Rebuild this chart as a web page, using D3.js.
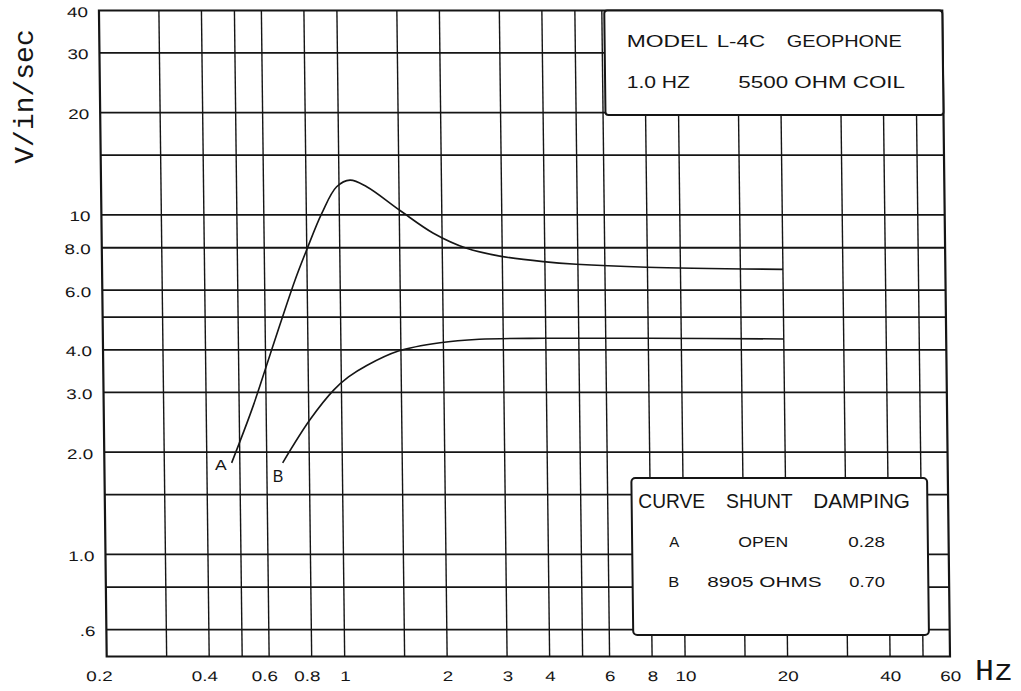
<!DOCTYPE html>
<html><head><meta charset="utf-8">
<script src="https://cdn.jsdelivr.net/npm/d3@7"></script>
<style>body{margin:0;background:#fff}</style>
</head><body>
<svg id="c" width="1021" height="691"></svg>
<script>
// ---- data ----
const xGrid = [0.3,0.4,0.5,0.6,0.8,1,1.5,2,3,4,5,6,8,10,15,20,30,40,50];
const yGrid = [0.6,0.8,1,1.5,2,3,4,5,6,8,10,15,20,30];
const xTicks = [0.2,0.4,0.6,0.8,1,2,3,4,6,8,10,20,40,60];
const xTickLabels = ["0.2","0.4","0.6","0.8","1","2","3","4","6","8","10","20","40","60"];
const yTicks = [40,30,20,10,8,6,4,3,2,1,0.6];
const yTickLabels = ["40","30","20","10","8.0","6.0","4.0","3.0","2.0","1.0",".6"];
const curveA_f = [0.473,0.547,0.636,0.736,0.80,0.888,0.984,1.078,1.206,1.508,1.886,2.36,2.95,3.96,4.95,7.97,20];
const curveA_v = [1.86,2.7,4.2,6.4,7.9,10.1,12.1,12.66,12.1,10.3,8.83,7.97,7.56,7.28,7.15,7.01,6.91];
const curveB_f = [0.668,0.806,0.95,1.05,1.189,1.474,1.956,2.55,4,8,20];
const curveB_v = [1.86,2.49,3.05,3.33,3.6,3.97,4.2,4.3,4.33,4.33,4.31];
const curveNames = ["A","B"];
const infoLine1 = ["MODEL","L-4C","GEOPHONE"];
const infoLine2 = ["1.0 HZ","5500 OHM COIL"];
const tableHeader = ["CURVE","SHUNT","DAMPING"];
const tableRowA = ["A","OPEN","0.28"];
const tableRowB = ["B","8905 OHMS","0.70"];
const yTitle = "V/in/sec";
const xTitle = "Hz";

// ---- drawing ----
const svg = d3.select("#c");
const ink = "#151515";
const sans = "'Liberation Sans', Arial, sans-serif";
const mono = "'Liberation Mono', 'DejaVu Sans Mono', monospace";
const x = d3.scaleLog().domain([0.2,60]).range([106.7,950]);
const y = d3.scaleLog().domain([0.5,40]).range([656.5,10.5]);
const base = y(0.5), k = 0.012;
const g = svg.append("g")
  .attr("transform", `translate(0,${base}) skewX(${Math.atan(k)*180/Math.PI}) translate(0,${-base})`);

g.selectAll("line.vg").data(xGrid).join("line").attr("class","vg")
  .attr("x1",d=>x(d)).attr("x2",d=>x(d)).attr("y1",y(0.5)).attr("y2",y(40))
  .attr("stroke",ink).attr("stroke-width",1.4);
g.selectAll("line.hg").data(yGrid).join("line").attr("class","hg")
  .attr("x1",x(0.2)).attr("x2",x(60)).attr("y1",d=>y(d)).attr("y2",d=>y(d))
  .attr("stroke",ink).attr("stroke-width",1.8);
g.append("rect").attr("x",x(0.2)).attr("y",y(40))
  .attr("width",x(60)-x(0.2)).attr("height",y(0.5)-y(40))
  .attr("fill","none").attr("stroke",ink).attr("stroke-width",2.2);

// boxes
g.append("rect").attr("x",612).attr("y",y(40)).attr("width",x(60)-612).attr("height",115-y(40))
  .attr("rx",3).attr("fill","#fff").attr("stroke",ink).attr("stroke-width",2);
g.append("rect").attr("x",633.5).attr("y",478).attr("width",295.7).attr("height",157)
  .attr("rx",4).attr("fill","#fff").attr("stroke",ink).attr("stroke-width",2);

// curves
const line = d3.line().x(d=>x(d[0])).y(d=>y(d[1])).curve(d3.curveCatmullRom.alpha(0.5));
g.append("path").attr("d", line(curveA_f.map((f,i)=>[f,curveA_v[i]])))
  .attr("fill","none").attr("stroke",ink).attr("stroke-width",1.6);
g.append("path").attr("d", line(curveB_f.map((f,i)=>[f,curveB_v[i]])))
  .attr("fill","none").attr("stroke",ink).attr("stroke-width",1.6);

// axes
const sx = 1.35;
const xAxis = d3.axisBottom(x).tickValues(xTicks)
  .tickFormat(d=>xTickLabels[xTicks.indexOf(d)]).tickSize(0).tickPadding(15);
const gx = g.append("g").attr("transform",`translate(0,${y(0.5)})`).call(xAxis);
gx.select(".domain").remove();
gx.selectAll("text").attr("font-family",sans).attr("font-size",14).attr("fill",ink)
  .attr("transform",`scale(${sx},1)`)
  .attr("x",d=>{const s=xTickLabels[xTicks.indexOf(d)]; return (d===0.2?-8:(s.includes(".")?-5:0))/sx;});

const yAxis = d3.axisLeft(y).tickValues(yTicks)
  .tickFormat(d=>yTickLabels[yTicks.indexOf(d)]).tickSize(0).tickPadding(11);
const gy = g.append("g").attr("transform",`translate(${x(0.2)},0)`).call(yAxis);
gy.select(".domain").remove();
gy.selectAll("text").attr("font-family",sans).attr("font-size",14).attr("fill",ink)
  .attr("transform",`scale(${sx},1)`).attr("x",-11/sx).attr("dy","0.43em");

// text helper
function txt(s, xx, yy, size, len, fam) {
  const t = svg.append("text").attr("x",xx).attr("y",yy).attr("font-family",fam||sans)
    .attr("font-size",size).attr("fill",ink).text(s);
  if (len) t.attr("textLength",len).attr("lengthAdjust","spacingAndGlyphs");
  return t;
}
// top box
txt(infoLine1[0],626.7,46.7,16.5,81.3);
txt(infoLine1[1],716.7,46.7,16.5,48.3);
txt(infoLine1[2],786.7,46.7,16.5,115);
txt(infoLine2[0],626.7,88.3,16.5,63.3);
txt(infoLine2[1],738.3,88.3,16.5,166.7);
// bottom table
txt(tableHeader[0],638.3,508.3,19.5,66.7);
txt(tableHeader[1],726,508.3,19.5,66.7);
txt(tableHeader[2],813.3,508.3,19.5,96.7);
txt(tableRowA[0],669.3,547.3,15.5,10);
txt(tableRowA[1],738.3,547.3,15.5,50);
txt(tableRowA[2],848.3,547.3,15.5,36.7);
txt(tableRowB[0],668.3,587.3,15.5,11);
txt(tableRowB[1],707.3,587.3,15.5,114.3);
txt(tableRowB[2],849.3,587.3,15.5,35.7);
// curve labels
txt(curveNames[0],215,470,15.5,11.7);
txt(curveNames[1],272.7,481.7,17,10.6);
// axis titles
svg.append("text").attr("transform","translate(33,96.5) rotate(-90)")
  .attr("text-anchor","middle").attr("font-family",mono).attr("font-size",28)
  .attr("fill",ink).text(yTitle);
txt(xTitle,975,680,29,38,mono);
</script>
</body></html>
